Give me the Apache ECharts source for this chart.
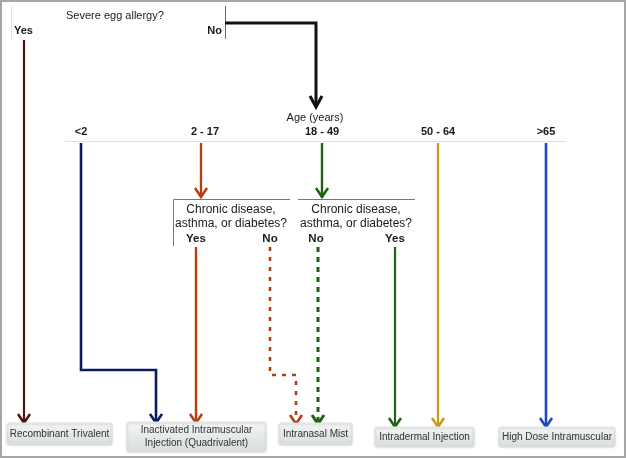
<!DOCTYPE html>
<html>
<head>
<meta charset="utf-8">
<script src="https://cdn.jsdelivr.net/npm/echarts@6/dist/echarts.min.js"></script>
<style>
  html, body { margin: 0; padding: 0; background: #fff; }
  #chart { width: 626px; height: 458px; }
</style>
</head>
<body>
<div id="chart"></div>
<script>
// --- content ---
const question = 'Severe egg allergy?'
const answers = ['Yes', 'No']
const ageTitle = 'Age (years)'
const ageGroups = ['<2', '2 - 17', '18 - 49', '50 - 64', '>65']
const chronicLines = ['Chronic disease,', 'asthma, or diabetes?']
const chronicAnswers = [['Yes', 'No'], ['No', 'Yes']]
const vaccines = [
  'Recombinant Trivalent',
  'Inactivated Intramuscular\nInjection (Quadrivalent)',
  'Intranasal Mist',
  'Intradermal Injection',
  'High Dose Intramuscular'
]

// --- flow paths, in the hidden axes' units (x 0..626, y 0..458 top-down) ---
const flowPaths = [
  [[24, 40], [24, 423]],                              // egg allergy: yes
  [[225, 23], [316, 23], [316, 107]],                 // egg allergy: no
  [[81, 143], [81, 370], [156, 370], [156, 423]],     // <2
  [[201, 143], [201, 197]],                           // 2 - 17
  [[196, 247], [196, 423]],                           // 2 - 17 yes
  [[270, 247], [270, 375], [296, 375], [296, 424]],   // 2 - 17 no
  [[322, 143], [322, 197]],                           // 18 - 49
  [[318, 247], [318, 424]],                           // 18 - 49 no
  [[395, 247], [395, 427]],                           // 18 - 49 yes
  [[438, 143], [438, 427]],                           // 50 - 64
  [[546, 143], [546, 427]]                            // >65
]
const ageX = [81, 201, 322, 438, 546]
const chronicX = [231, 356]
const chronicAnswerX = [[196, 270], [316, 395]]
// vaccine boxes [x0, y0, x1, y1]
const vaccineBoxes = [
  [7, 423, 112, 444],
  [127, 422, 266, 451],
  [279, 423, 352, 444],
  [375, 427, 474, 446],
  [499, 427, 615, 446]
]

// --- styles ---
const maroon = '#4a1616'
const navy = '#0c1a5e'
const rust = '#b3400f'
const green = '#1d6410'
const gold = '#c49a18'
const blue = '#1f47bf'
const flowColors = [maroon, '#111', navy, rust, rust, rust, green, green, green, gold, blue]
const flowWidths = [2.2, 3, 2.6, 2.4, 2.4, 2.6, 2.4, 3, 2.2, 2.2, 2.6]
const flowDash = [null, null, null, null, null, [4, 6], null, [5, 5], null, null, null]
const font = "'Liberation Sans', Arial, sans-serif"
const textColor = '#1a1a1a'

const chart = echarts.init(document.getElementById('chart'))

function renderFlow (params, api) {
  const i = params.dataIndex
  const pts = flowPaths[i].map(p => api.coord(p))
  const tip = pts[pts.length - 1]
  const prev = pts[pts.length - 2]
  const dx = tip[0] - prev[0]
  const dy = tip[1] - prev[1]
  const len = Math.hypot(dx, dy)
  const ux = dx / len
  const uy = dy / len
  const hw = 6
  const hl = i === 1 ? 11 : 9
  const a = [tip[0] - ux * hl - uy * hw, tip[1] - uy * hl + ux * hw]
  const b = [tip[0] - ux * hl + uy * hw, tip[1] - uy * hl - ux * hw]
  const w = flowWidths[i]
  return {
    type: 'group',
    children: [
      {
        type: 'polyline',
        shape: { points: pts },
        style: { stroke: flowColors[i], lineWidth: w, lineDash: flowDash[i] || null, fill: null, lineJoin: 'miter' }
      },
      {
        type: 'polyline',
        shape: { points: [a, tip, b] },
        style: { stroke: flowColors[i], lineWidth: Math.max(w, 2.5), fill: null, lineJoin: 'miter' }
      }
    ]
  }
}

function renderFrames (params, api) {
  // light structural rules of the diagram
  const seg = (pts, color, w) => ({
    type: 'polyline',
    shape: { points: pts.map(p => api.coord(p)) },
    style: { stroke: color, lineWidth: w || 1, fill: null }
  })
  return {
    type: 'group',
    children: [
      seg([[11.5, 6], [11.5, 39]], '#e2e2e2'),
      seg([[225.5, 6], [225.5, 39]], '#666'),
      seg([[65, 141.5], [566, 141.5]], '#dde1e1'),
      seg([[173.5, 246], [173.5, 199.5], [290, 199.5]], '#777'),
      seg([[298, 199.5], [415, 199.5]], '#777')
    ]
  }
}

function textEl (api, str, p, opt) {
  const c = api.coord(p)
  return {
    type: 'text',
    x: c[0],
    y: c[1],
    style: {
      text: str,
      fill: textColor,
      font: (opt.bold ? 'bold ' : '') + (opt.size || 11) + 'px ' + font,
      textAlign: opt.align || 'center',
      textVerticalAlign: 'middle',
      lineHeight: opt.lineHeight || 13
    }
  }
}

function renderTexts (params, api) {
  const children = [
    textEl(api, question, [66, 16], { align: 'left', size: 11 }),
    textEl(api, answers[0], [14, 31], { align: 'left', bold: true }),
    textEl(api, answers[1], [222, 31], { align: 'right', bold: true }),
    textEl(api, ageTitle, [315, 118], { size: 11 })
  ]
  ageGroups.forEach((g, k) => {
    children.push(textEl(api, g, [ageX[k] + (k === 1 ? 4 : 0), 132], { bold: true }))
  })
  chronicX.forEach((cx, k) => {
    children.push(textEl(api, chronicLines[0], [cx, 210], { size: 12 }))
    children.push(textEl(api, chronicLines[1], [cx, 224], { size: 12 }))
    chronicAnswers[k].forEach((ans, j) => {
      children.push(textEl(api, ans, [chronicAnswerX[k][j], 238.5], { bold: true, size: 11.5 }))
    })
  })
  return { type: 'group', children: children }
}

function renderBox (params, api) {
  const b = vaccineBoxes[params.dataIndex]
  const p0 = api.coord([b[0], b[1]])
  const p1 = api.coord([b[2], b[3]])
  return {
    type: 'group',
    children: [
      {
        type: 'rect',
        shape: { x: p0[0], y: p0[1], width: p1[0] - p0[0], height: p1[1] - p0[1], r: 2 },
        style: {
          fill: new echarts.graphic.LinearGradient(0, 0, 0, 1, [
            { offset: 0, color: '#f4f6f6' },
            { offset: 1, color: '#d8dddd' }
          ]),
          stroke: '#e3e6e6',
          lineWidth: 1,
          shadowColor: 'rgba(0,0,0,0.18)',
          shadowBlur: 2,
          shadowOffsetY: 1
        }
      },
      {
        type: 'text',
        x: (p0[0] + p1[0]) / 2,
        y: (p0[1] + p1[1]) / 2 + 0.5,
        style: {
          text: vaccines[params.dataIndex],
          fill: '#333',
          font: '10px ' + font,
          textAlign: 'center',
          textVerticalAlign: 'middle',
          lineHeight: 13
        }
      }
    ]
  }
}

chart.setOption({
  animation: false,
  grid: { left: 0, right: 0, top: 0, bottom: 0 },
  xAxis: { type: 'value', min: 0, max: 626, show: false },
  yAxis: { type: 'value', min: 0, max: 458, inverse: true, show: false },
  graphic: [{
    type: 'rect',
    shape: { x: 1, y: 1, width: 624, height: 456 },
    style: { fill: null, stroke: '#a6a6a6', lineWidth: 2 },
    silent: true
  }],
  series: [
    {
      type: 'custom',
      name: 'frames',
      coordinateSystem: 'cartesian2d',
      clip: false,
      silent: true,
      renderItem: renderFrames,
      data: [[0, 0]]
    },
    {
      type: 'custom',
      name: 'flows',
      coordinateSystem: 'cartesian2d',
      clip: false,
      silent: true,
      renderItem: renderFlow,
      data: flowPaths.map(p => p[0])
    },
    {
      type: 'custom',
      name: 'vaccines',
      coordinateSystem: 'cartesian2d',
      clip: false,
      silent: true,
      renderItem: renderBox,
      data: vaccineBoxes.map(b => [b[0], b[1]])
    },
    {
      type: 'custom',
      name: 'texts',
      coordinateSystem: 'cartesian2d',
      clip: false,
      silent: true,
      renderItem: renderTexts,
      data: [[0, 0]]
    }
  ]
})
</script>
</body>
</html>
